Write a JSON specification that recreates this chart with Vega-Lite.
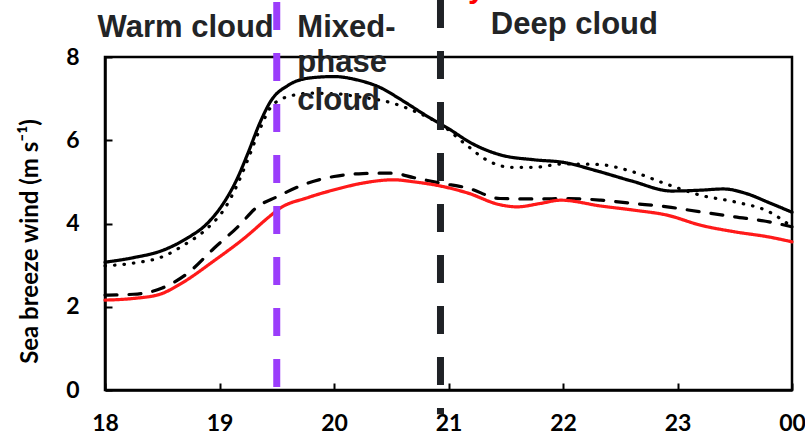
{
  "$schema": "https://vega.github.io/schema/vega-lite/v6.json",
  "width": 687,
  "height": 333,
  "autosize": {"type": "none"},
  "padding": {"left": 105, "top": 57, "right": 13, "bottom": 48},
  "background": "white",
  "config": {
    "view": {"stroke": "black", "strokeWidth": 2.5},
    "axis": {"grid": false, "domainColor": "black", "domainWidth": 2.5, "tickColor": "black", "tickWidth": 2, "tickSize": -7, "labelFont": "Lato", "labelFontWeight": "bold", "labelFontSize": 23, "labelColor": "black", "labelFlush": false}
  },
  "resolve": {"scale": {"color": "independent", "strokeDash": "independent"}},
  "datasets": {
    "lines": [
      {"t": 18.0, "v": 3.07, "s": "solid"}, {"t": 18.25, "v": 3.18, "s": "solid"}, {"t": 18.5, "v": 3.35, "s": "solid"}, {"t": 18.7, "v": 3.62, "s": "solid"}, {"t": 18.9, "v": 4.02, "s": "solid"}, {"t": 19.05, "v": 4.55, "s": "solid"}, {"t": 19.15, "v": 5.05, "s": "solid"}, {"t": 19.25, "v": 5.7, "s": "solid"}, {"t": 19.35, "v": 6.4, "s": "solid"}, {"t": 19.45, "v": 6.95, "s": "solid"}, {"t": 19.6, "v": 7.32, "s": "solid"}, {"t": 19.8, "v": 7.5, "s": "solid"}, {"t": 20.0, "v": 7.53, "s": "solid"}, {"t": 20.2, "v": 7.45, "s": "solid"}, {"t": 20.4, "v": 7.27, "s": "solid"}, {"t": 20.6, "v": 6.95, "s": "solid"}, {"t": 20.8, "v": 6.6, "s": "solid"}, {"t": 21.0, "v": 6.28, "s": "solid"}, {"t": 21.2, "v": 5.93, "s": "solid"}, {"t": 21.45, "v": 5.65, "s": "solid"}, {"t": 21.75, "v": 5.53, "s": "solid"}, {"t": 22.0, "v": 5.47, "s": "solid"}, {"t": 22.3, "v": 5.26, "s": "solid"}, {"t": 22.6, "v": 5.02, "s": "solid"}, {"t": 22.95, "v": 4.78, "s": "solid"}, {"t": 23.2, "v": 4.8, "s": "solid"}, {"t": 23.4, "v": 4.83, "s": "solid"}, {"t": 23.6, "v": 4.72, "s": "solid"}, {"t": 23.8, "v": 4.5, "s": "solid"}, {"t": 24.0, "v": 4.27, "s": "solid"},
      {"t": 18.0, "v": 2.98, "s": "dotted"}, {"t": 18.25, "v": 3.05, "s": "dotted"}, {"t": 18.5, "v": 3.2, "s": "dotted"}, {"t": 18.7, "v": 3.5, "s": "dotted"}, {"t": 18.9, "v": 3.9, "s": "dotted"}, {"t": 19.05, "v": 4.38, "s": "dotted"}, {"t": 19.15, "v": 4.9, "s": "dotted"}, {"t": 19.25, "v": 5.55, "s": "dotted"}, {"t": 19.35, "v": 6.25, "s": "dotted"}, {"t": 19.45, "v": 6.8, "s": "dotted"}, {"t": 19.6, "v": 7.05, "s": "dotted"}, {"t": 19.8, "v": 7.13, "s": "dotted"}, {"t": 20.0, "v": 7.12, "s": "dotted"}, {"t": 20.2, "v": 7.05, "s": "dotted"}, {"t": 20.5, "v": 6.9, "s": "dotted"}, {"t": 20.7, "v": 6.7, "s": "dotted"}, {"t": 20.95, "v": 6.35, "s": "dotted"}, {"t": 21.15, "v": 5.9, "s": "dotted"}, {"t": 21.35, "v": 5.5, "s": "dotted"}, {"t": 21.55, "v": 5.35, "s": "dotted"}, {"t": 21.75, "v": 5.35, "s": "dotted"}, {"t": 22.0, "v": 5.43, "s": "dotted"}, {"t": 22.3, "v": 5.42, "s": "dotted"}, {"t": 22.6, "v": 5.25, "s": "dotted"}, {"t": 22.9, "v": 4.95, "s": "dotted"}, {"t": 23.2, "v": 4.68, "s": "dotted"}, {"t": 23.5, "v": 4.52, "s": "dotted"}, {"t": 23.8, "v": 4.28, "s": "dotted"}, {"t": 24.0, "v": 3.92, "s": "dotted"},
      {"t": 18.0, "v": 2.28, "s": "dashed"}, {"t": 18.25, "v": 2.3, "s": "dashed"}, {"t": 18.5, "v": 2.45, "s": "dashed"}, {"t": 18.72, "v": 2.8, "s": "dashed"}, {"t": 18.95, "v": 3.4, "s": "dashed"}, {"t": 19.16, "v": 3.92, "s": "dashed"}, {"t": 19.33, "v": 4.4, "s": "dashed"}, {"t": 19.5, "v": 4.64, "s": "dashed"}, {"t": 19.75, "v": 4.95, "s": "dashed"}, {"t": 20.0, "v": 5.13, "s": "dashed"}, {"t": 20.25, "v": 5.2, "s": "dashed"}, {"t": 20.5, "v": 5.21, "s": "dashed"}, {"t": 20.7, "v": 5.1, "s": "dashed"}, {"t": 20.93, "v": 4.97, "s": "dashed"}, {"t": 21.17, "v": 4.85, "s": "dashed"}, {"t": 21.45, "v": 4.6, "s": "dashed"}, {"t": 21.75, "v": 4.59, "s": "dashed"}, {"t": 22.05, "v": 4.6, "s": "dashed"}, {"t": 22.33, "v": 4.56, "s": "dashed"}, {"t": 22.62, "v": 4.48, "s": "dashed"}, {"t": 22.91, "v": 4.4, "s": "dashed"}, {"t": 23.2, "v": 4.28, "s": "dashed"}, {"t": 23.5, "v": 4.16, "s": "dashed"}, {"t": 23.8, "v": 4.04, "s": "dashed"}, {"t": 24.0, "v": 3.92, "s": "dashed"},
      {"t": 18.0, "v": 2.16, "s": "red"}, {"t": 18.25, "v": 2.2, "s": "red"}, {"t": 18.48, "v": 2.3, "s": "red"}, {"t": 18.66, "v": 2.55, "s": "red"}, {"t": 18.95, "v": 3.1, "s": "red"}, {"t": 19.24, "v": 3.7, "s": "red"}, {"t": 19.42, "v": 4.13, "s": "red"}, {"t": 19.53, "v": 4.37, "s": "red"}, {"t": 19.77, "v": 4.62, "s": "red"}, {"t": 20.03, "v": 4.83, "s": "red"}, {"t": 20.25, "v": 4.97, "s": "red"}, {"t": 20.52, "v": 5.05, "s": "red"}, {"t": 20.7, "v": 5.0, "s": "red"}, {"t": 20.93, "v": 4.9, "s": "red"}, {"t": 21.17, "v": 4.73, "s": "red"}, {"t": 21.45, "v": 4.45, "s": "red"}, {"t": 21.6, "v": 4.4, "s": "red"}, {"t": 21.8, "v": 4.48, "s": "red"}, {"t": 21.98, "v": 4.56, "s": "red"}, {"t": 22.33, "v": 4.42, "s": "red"}, {"t": 22.62, "v": 4.32, "s": "red"}, {"t": 22.91, "v": 4.2, "s": "red"}, {"t": 23.2, "v": 3.96, "s": "red"}, {"t": 23.5, "v": 3.8, "s": "red"}, {"t": 23.79, "v": 3.68, "s": "red"}, {"t": 24.0, "v": 3.56, "s": "red"}
    ],
    "rules": [
      {"t": 19.5, "top": 9.32, "bottom": -0.05, "kind": "purple"},
      {"t": 20.93, "top": 9.37, "bottom": -0.58, "kind": "black"}
    ],
    "labels": [
      {"t": 17.935, "v": 8.48, "text": "Warm cloud", "c": "dark"},
      {"t": 19.68, "v": 8.48, "text": "Mixed-", "c": "dark"},
      {"t": 19.68, "v": 7.64, "text": "phase", "c": "dark"},
      {"t": 19.68, "v": 6.73, "text": "cloud", "c": "dark"},
      {"t": 21.37, "v": 8.55, "text": "Deep cloud", "c": "dark"},
      {"t": 21.17, "v": 9.45, "text": "y", "c": "red"}
    ]
  },
  "layer": [
    {
      "data": {"name": "lines"},
      "mark": {"type": "line", "interpolate": "monotone", "strokeWidth": 3.2, "strokeCap": "round", "clip": false},
      "encoding": {
        "x": {"field": "t", "type": "quantitative", "scale": {"domain": [18, 24], "nice": false, "zero": false},
          "axis": {"values": [18, 19, 20, 21, 22, 23, 24], "labelExpr": "datum.value == 24 ? '00' : format(datum.value, 'd')", "title": null, "labelPadding": 29}},
        "y": {"field": "v", "type": "quantitative", "scale": {"domain": [0, 8], "nice": false},
          "axis": {"values": [0, 2, 4, 6, 8], "labelPadding": 33, "title": "Sea breeze wind (m s⁻¹)", "titleFont": "Lato", "titleFontWeight": "bold", "titleFontSize": 24, "titleColor": "black", "titleAngle": -90, "titleAlign": "center", "titleBaseline": "alphabetic", "titleX": -68, "titleY": 184}},
        "detail": {"field": "s"},
        "color": {"field": "s", "type": "nominal", "scale": {"domain": ["solid", "dotted", "dashed", "red"], "range": ["#000000", "#000000", "#000000", "#ff1a1a"]}, "legend": null},
        "strokeDash": {"field": "s", "type": "nominal", "scale": {"domain": ["solid", "dotted", "dashed", "red"], "range": [[1, 0], [0.5, 9], [12, 12], [1, 0]]}, "legend": null}
      }
    },
    {
      "data": {"name": "rules"},
      "mark": {"type": "rule", "strokeWidth": 7, "strokeDash": [28, 23], "clip": false},
      "encoding": {
        "x": {"field": "t", "type": "quantitative"},
        "y": {"field": "top", "type": "quantitative"},
        "y2": {"field": "bottom"},
        "color": {"field": "kind", "type": "nominal", "scale": {"domain": ["purple", "black"], "range": ["#9b3dfb", "#1f2226"]}, "legend": null}
      }
    },
    {
      "data": {"name": "labels"},
      "mark": {"type": "text", "align": "left", "baseline": "alphabetic", "font": "Liberation Sans", "fontWeight": "bold", "fontSize": 31, "clip": false},
      "encoding": {
        "x": {"field": "t", "type": "quantitative"},
        "y": {"field": "v", "type": "quantitative"},
        "text": {"field": "text"},
        "color": {"field": "c", "type": "nominal", "scale": {"domain": ["dark", "red"], "range": ["#222426", "#ff0000"]}, "legend": null}
      }
    }
  ]
}
